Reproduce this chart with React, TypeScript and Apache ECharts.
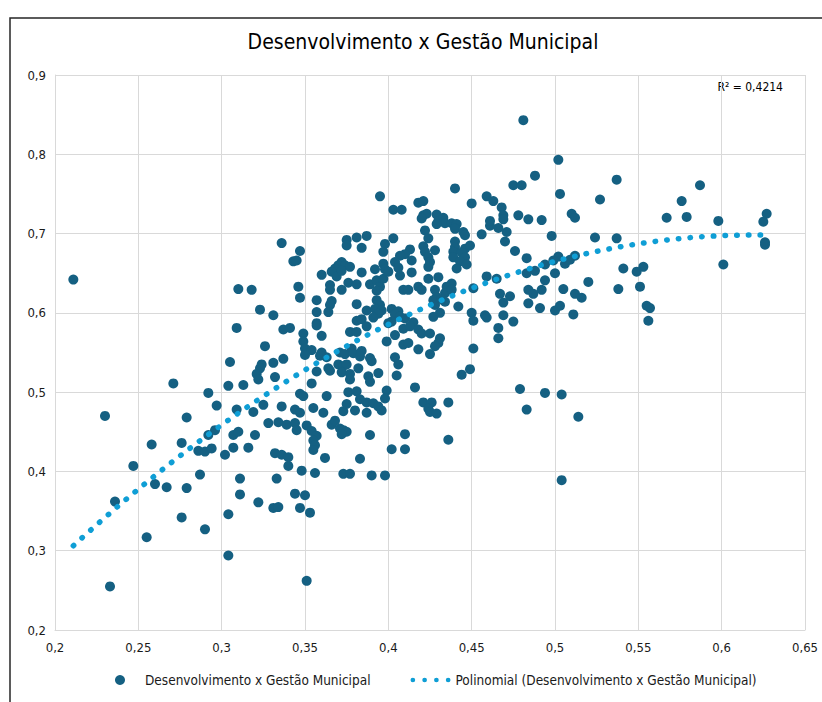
import React, { useEffect, useRef } from "react";
import * as echarts from "echarts";

const TITLE = "Desenvolvimento x Gestão Municipal";
const SERIES_NAME = "Desenvolvimento x Gestão Municipal";
const TREND_NAME = "Polinomial (Desenvolvimento x Gestão Municipal)";
const R2_LABEL = "R² = 0,4214";

const X_MIN = 0.2;
const X_MAX = 0.65;
const X_STEP = 0.05;
const Y_MIN = 0.2;
const Y_MAX = 0.9;
const Y_STEP = 0.1;

// [x, y], grouped by x band
const pointsBelow030: [number, number][] = [
  [0.211, 0.642], [0.230, 0.470], [0.233, 0.255], [0.236, 0.362], [0.247, 0.407],
  [0.255, 0.317], [0.258, 0.434], [0.260, 0.384], [0.267, 0.380], [0.271, 0.511],
  [0.276, 0.436], [0.276, 0.342], [0.279, 0.468], [0.279, 0.379], [0.286, 0.426],
  [0.287, 0.396], [0.290, 0.425], [0.290, 0.327], [0.292, 0.499], [0.292, 0.446],
  [0.294, 0.429], [0.296, 0.452], [0.297, 0.483],
];

const points030to035: [number, number][] = [
  [0.302, 0.421], [0.304, 0.508], [0.305, 0.538], [0.309, 0.581], [0.310, 0.630],
  [0.318, 0.629], [0.309, 0.478], [0.307, 0.446], [0.310, 0.450], [0.307, 0.430],
  [0.304, 0.346], [0.304, 0.294], [0.311, 0.391], [0.311, 0.371], [0.313, 0.509],
  [0.316, 0.430], [0.319, 0.475], [0.320, 0.446], [0.322, 0.361], [0.323, 0.604],
  [0.324, 0.535], [0.323, 0.530], [0.321, 0.523], [0.322, 0.516], [0.325, 0.484],
  [0.326, 0.558], [0.331, 0.597], [0.331, 0.537], [0.332, 0.519], [0.336, 0.688],
  [0.336, 0.482], [0.337, 0.542], [0.337, 0.579], [0.341, 0.581], [0.328, 0.461],
  [0.334, 0.462], [0.339, 0.459], [0.344, 0.461], [0.345, 0.452], [0.332, 0.423],
  [0.336, 0.421], [0.340, 0.418], [0.340, 0.407], [0.333, 0.391], [0.331, 0.354],
  [0.334, 0.355], [0.344, 0.372], [0.347, 0.354], [0.350, 0.370], [0.348, 0.401],
  [0.351, 0.262], [0.343, 0.665], [0.345, 0.666], [0.347, 0.678], [0.346, 0.633],
  [0.347, 0.619], [0.349, 0.574], [0.349, 0.564], [0.347, 0.498], [0.349, 0.495],
  [0.344, 0.478], [0.347, 0.474],
];

const points035to040: [number, number][] = [
  [0.350, 0.555], [0.354, 0.553], [0.350, 0.547], [0.395, 0.747], [0.375, 0.692],
  [0.375, 0.685], [0.381, 0.695], [0.387, 0.697], [0.384, 0.682], [0.372, 0.664],
  [0.370, 0.660], [0.368, 0.656], [0.366, 0.652], [0.369, 0.646], [0.374, 0.660],
  [0.377, 0.658], [0.372, 0.653], [0.360, 0.648], [0.384, 0.651], [0.392, 0.655],
  [0.398, 0.687], [0.397, 0.677], [0.397, 0.662], [0.357, 0.616], [0.365, 0.635],
  [0.365, 0.629], [0.372, 0.629], [0.376, 0.638], [0.381, 0.636], [0.389, 0.636],
  [0.393, 0.641], [0.395, 0.633], [0.393, 0.628], [0.397, 0.643], [0.366, 0.615],
  [0.365, 0.610], [0.364, 0.601], [0.381, 0.611], [0.387, 0.603], [0.393, 0.616],
  [0.395, 0.610], [0.392, 0.605], [0.396, 0.603], [0.394, 0.599], [0.357, 0.601],
  [0.357, 0.587], [0.357, 0.584], [0.360, 0.571], [0.377, 0.576], [0.381, 0.576],
  [0.381, 0.590], [0.384, 0.592], [0.391, 0.594], [0.387, 0.583], [0.360, 0.550],
  [0.359, 0.546], [0.371, 0.550], [0.374, 0.548], [0.378, 0.555], [0.379, 0.549],
  [0.384, 0.552], [0.383, 0.545], [0.389, 0.543], [0.390, 0.539], [0.363, 0.544],
  [0.364, 0.530], [0.365, 0.527], [0.370, 0.535], [0.373, 0.533], [0.375, 0.535],
  [0.372, 0.525], [0.377, 0.523], [0.377, 0.516], [0.382, 0.530], [0.388, 0.520],
  [0.389, 0.513], [0.394, 0.524], [0.357, 0.526], [0.354, 0.511], [0.363, 0.495],
  [0.376, 0.500], [0.381, 0.501], [0.383, 0.491], [0.387, 0.487], [0.391, 0.486],
  [0.394, 0.482], [0.396, 0.477], [0.355, 0.480], [0.361, 0.474], [0.373, 0.476],
  [0.375, 0.485], [0.380, 0.477], [0.387, 0.474], [0.351, 0.458], [0.354, 0.451],
  [0.357, 0.445], [0.355, 0.439], [0.356, 0.433], [0.355, 0.427], [0.366, 0.459],
  [0.368, 0.464], [0.371, 0.454], [0.373, 0.452], [0.375, 0.450], [0.372, 0.447],
  [0.389, 0.446], [0.362, 0.417], [0.356, 0.398], [0.353, 0.348], [0.373, 0.397],
  [0.377, 0.397], [0.383, 0.416], [0.390, 0.395], [0.398, 0.395], [0.399, 0.502],
  [0.398, 0.492],
];

const points040to046: [number, number][] = [
  [0.440, 0.757], [0.450, 0.738], [0.459, 0.747], [0.418, 0.739], [0.421, 0.741],
  [0.403, 0.730], [0.408, 0.730], [0.421, 0.723], [0.423, 0.725], [0.420, 0.719],
  [0.429, 0.724], [0.430, 0.716], [0.433, 0.720], [0.434, 0.713], [0.429, 0.712],
  [0.438, 0.713], [0.441, 0.712], [0.440, 0.706], [0.445, 0.702], [0.422, 0.704],
  [0.446, 0.698], [0.461, 0.710], [0.461, 0.716], [0.456, 0.699], [0.403, 0.694],
  [0.424, 0.694], [0.440, 0.690], [0.440, 0.683], [0.439, 0.677], [0.439, 0.670],
  [0.421, 0.684], [0.422, 0.677], [0.428, 0.679], [0.413, 0.680], [0.410, 0.674],
  [0.407, 0.672], [0.404, 0.664], [0.406, 0.657], [0.407, 0.647], [0.414, 0.666],
  [0.424, 0.670], [0.425, 0.664], [0.424, 0.658], [0.446, 0.681], [0.449, 0.685],
  [0.444, 0.676], [0.446, 0.670], [0.443, 0.665], [0.447, 0.661], [0.441, 0.656],
  [0.398, 0.655], [0.400, 0.652], [0.414, 0.651], [0.424, 0.643], [0.430, 0.645],
  [0.438, 0.637], [0.435, 0.633], [0.434, 0.625], [0.438, 0.629], [0.409, 0.629],
  [0.412, 0.629], [0.418, 0.633], [0.420, 0.629], [0.428, 0.629], [0.429, 0.620],
  [0.427, 0.616], [0.428, 0.610], [0.434, 0.614], [0.442, 0.608], [0.450, 0.600],
  [0.458, 0.597], [0.402, 0.605], [0.406, 0.602], [0.404, 0.598], [0.431, 0.600],
  [0.432, 0.617], [0.451, 0.631], [0.451, 0.590], [0.402, 0.589], [0.400, 0.587],
  [0.407, 0.595], [0.410, 0.593], [0.415, 0.588], [0.409, 0.580], [0.413, 0.583],
  [0.418, 0.579], [0.420, 0.574], [0.425, 0.574], [0.427, 0.595], [0.431, 0.568],
  [0.430, 0.562], [0.428, 0.558], [0.404, 0.572], [0.399, 0.564], [0.409, 0.560],
  [0.412, 0.562], [0.418, 0.554], [0.425, 0.548], [0.451, 0.555], [0.404, 0.544],
  [0.406, 0.535], [0.449, 0.529], [0.444, 0.522], [0.405, 0.521], [0.416, 0.506],
  [0.421, 0.487], [0.426, 0.487], [0.424, 0.479], [0.425, 0.475], [0.429, 0.473],
  [0.436, 0.487], [0.410, 0.447], [0.436, 0.440], [0.402, 0.428], [0.410, 0.428],
];

const pointsAbove046: [number, number][] = [
  [0.481, 0.843], [0.502, 0.793], [0.488, 0.773], [0.475, 0.761], [0.480, 0.761],
  [0.503, 0.750], [0.463, 0.741], [0.468, 0.733], [0.469, 0.723], [0.469, 0.718],
  [0.478, 0.723], [0.484, 0.718], [0.492, 0.717], [0.510, 0.725], [0.512, 0.720],
  [0.466, 0.707], [0.471, 0.702], [0.498, 0.697], [0.470, 0.690], [0.476, 0.678],
  [0.483, 0.669], [0.502, 0.671], [0.499, 0.666], [0.506, 0.662], [0.509, 0.667],
  [0.512, 0.672], [0.494, 0.661], [0.488, 0.653], [0.483, 0.650], [0.500, 0.650],
  [0.494, 0.641], [0.459, 0.646], [0.465, 0.643], [0.467, 0.624], [0.469, 0.613],
  [0.473, 0.621], [0.484, 0.629], [0.487, 0.624], [0.484, 0.612], [0.492, 0.629],
  [0.505, 0.630], [0.512, 0.624], [0.516, 0.619], [0.491, 0.606], [0.500, 0.603],
  [0.503, 0.609], [0.511, 0.598], [0.459, 0.594], [0.469, 0.597], [0.475, 0.589],
  [0.466, 0.581], [0.466, 0.568], [0.479, 0.504], [0.483, 0.478], [0.494, 0.499],
  [0.504, 0.497], [0.514, 0.469], [0.504, 0.389], [0.537, 0.768], [0.527, 0.743],
  [0.524, 0.695], [0.537, 0.694], [0.587, 0.761], [0.576, 0.741], [0.567, 0.720],
  [0.579, 0.721], [0.598, 0.716], [0.627, 0.725], [0.625, 0.715], [0.626, 0.689],
  [0.626, 0.686], [0.601, 0.661], [0.541, 0.656], [0.553, 0.658], [0.549, 0.652],
  [0.520, 0.639], [0.538, 0.630], [0.551, 0.633], [0.555, 0.609], [0.557, 0.606],
  [0.556, 0.590],
];

const allPoints: [number, number][] = [
  ...pointsBelow030,
  ...points030to035,
  ...points035to040,
  ...points040to046,
  ...pointsAbove046,
];

// Least-squares 2nd order polynomial fit (Excel "Polinomial" trendline)
function quadraticFit(pts: [number, number][]): [number, number, number] {
  let n = 0, sx = 0, sx2 = 0, sx3 = 0, sx4 = 0, sy = 0, sxy = 0, sx2y = 0;
  for (const [x, y] of pts) {
    const x2 = x * x;
    n += 1; sx += x; sx2 += x2; sx3 += x2 * x; sx4 += x2 * x2;
    sy += y; sxy += x * y; sx2y += x2 * y;
  }
  const m = [
    [n, sx, sx2, sy],
    [sx, sx2, sx3, sxy],
    [sx2, sx3, sx4, sx2y],
  ];
  for (let i = 0; i < 3; i++) {
    for (let k = i + 1; k < 3; k++) {
      const f = m[k][i] / m[i][i];
      for (let j = i; j < 4; j++) m[k][j] -= f * m[i][j];
    }
  }
  const c = m[2][3] / m[2][2];
  const b = (m[1][3] - m[1][2] * c) / m[1][1];
  const a = (m[0][3] - m[0][1] * b - m[0][2] * c) / m[0][0];
  return [a, b, c];
}

const FONT = "'Liberation Sans Narrow', 'DejaVu Sans Condensed', 'Noto Sans', sans-serif";
const fmt = (v: number) => String(Math.round(v * 100) / 100).replace(".", ",");

// four dots, as in the Excel legend swatch of a dotted trendline
const dot = (cx: number) =>
  `M${cx - 2.5},2.5A2.5,2.5 0 1,0 ${cx + 2.5},2.5A2.5,2.5 0 1,0 ${cx - 2.5},2.5Z`;
const DOTS_ICON = "path://" + [2.5, 15, 27.5, 40].map(dot).join("");

export default function App() {
  const ref = useRef<HTMLDivElement>(null);
  useEffect(() => {
    if (!ref.current) return;
    const chart = echarts.init(ref.current, undefined, { renderer: "svg" });
    const [a, b, c] = quadraticFit(allPoints);
    const xs = allPoints.map((p) => p[0]);
    const xLo = Math.min(...xs);
    const xHi = Math.max(...xs);
    const steps = 80;
    const trend: [number, number][] = [];
    for (let i = 0; i <= steps; i++) {
      const x = xLo + ((xHi - xLo) * i) / steps;
      trend.push([x, a + b * x + c * x * x]);
    }
    chart.setOption({
      animation: false,
      backgroundColor: "#ffffff",
      grid: { left: 55, right: 17, top: 75, bottom: 72, containLabel: false },
      xAxis: {
        type: "value",
        min: X_MIN,
        max: X_MAX,
        interval: X_STEP,
        axisLine: { show: true, lineStyle: { color: "#d9d9d9", width: 1 } },
        axisTick: { show: false },
        splitLine: { show: true, lineStyle: { color: "#d9d9d9", width: 1 } },
        axisLabel: { formatter: fmt, color: "#1a1a1a", fontSize: 13, fontFamily: FONT, margin: 11 },
      },
      yAxis: {
        type: "value",
        min: Y_MIN,
        max: Y_MAX,
        interval: Y_STEP,
        axisLine: { show: true, lineStyle: { color: "#d9d9d9", width: 1 } },
        axisTick: { show: false },
        splitLine: { show: true, lineStyle: { color: "#d9d9d9", width: 1 } },
        axisLabel: { formatter: fmt, color: "#1a1a1a", fontSize: 13, fontFamily: FONT, margin: 9 },
      },
      legend: {
        bottom: 10,
        left: 110,
        itemGap: 40,
        itemWidth: 40,
        itemHeight: 10,
        textStyle: { fontSize: 13.5, color: "#1a1a1a", fontFamily: FONT },
        data: [
          { name: SERIES_NAME, icon: "circle", itemStyle: { borderWidth: 0 } },
          { name: TREND_NAME, icon: DOTS_ICON, itemStyle: { color: "#0f9ed5", borderWidth: 0 } },
        ],
      },
      graphic: [
        {
          type: "rect",
          shape: { x: 10, y: 18, width: 830, height: 720 },
          style: { fill: "none", stroke: "#262626", lineWidth: 1.5 },
          silent: true,
        },
        {
          type: "text",
          x: 423,
          y: 42,
          style: {
            text: TITLE,
            fontSize: 21,
            fontFamily: FONT,
            fill: "#000000",
            align: "center",
            verticalAlign: "middle",
          },
        },
        {
          type: "text",
          x: 783,
          y: 87,
          style: {
            text: R2_LABEL,
            fontSize: 12,
            fontFamily: FONT,
            fill: "#000000",
            align: "right",
            verticalAlign: "middle",
          },
        },
      ],
      series: [
        {
          name: SERIES_NAME,
          type: "scatter",
          data: allPoints,
          symbol: "circle",
          symbolSize: 10,
          itemStyle: { color: "#156082", opacity: 1 },
          z: 2,
        },
        {
          name: TREND_NAME,
          type: "line",
          data: trend,
          showSymbol: false,
          symbol: "none",
          smooth: false,
          itemStyle: { color: "#0f9ed5" },
          lineStyle: { color: "#0f9ed5", width: 5.5, type: [0.5, 11.2], cap: "round" },
          z: 3,
        },
      ],
    });
    return () => chart.dispose();
  }, []);
  return (
    <div
      ref={ref}
      style={{ position: "absolute", left: 0, top: 0, width: 822, height: 702 }}
    />
  );
}
